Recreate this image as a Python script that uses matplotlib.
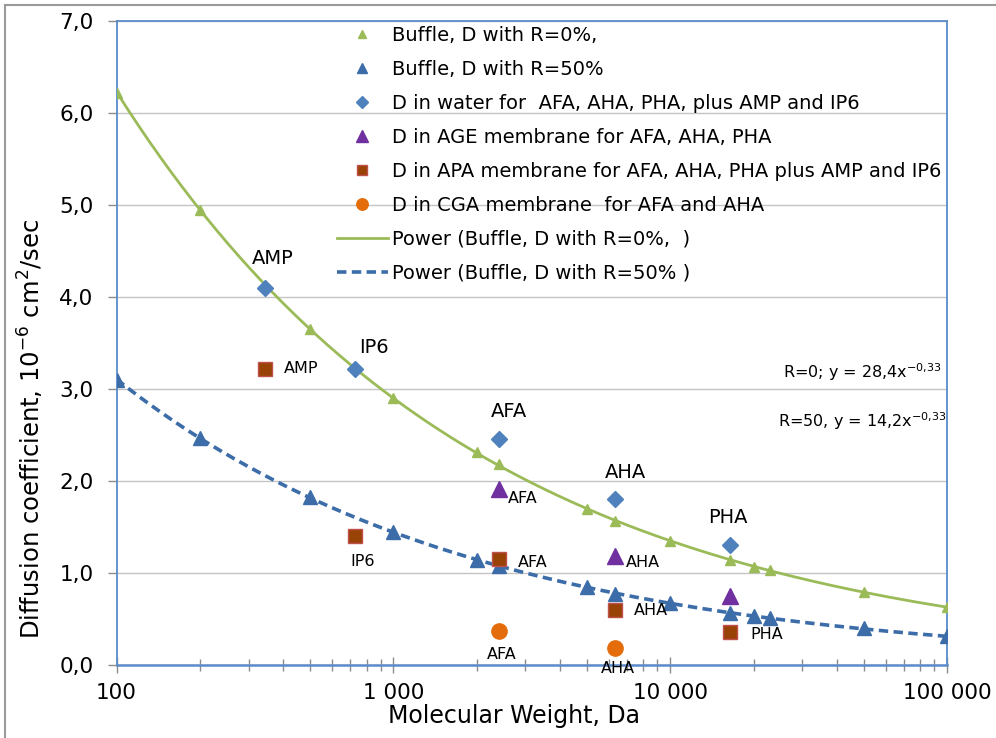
import numpy as np
import matplotlib
matplotlib.use("Agg")
import matplotlib.pyplot as plt
from matplotlib.lines import Line2D
from matplotlib.ticker import FixedLocator, FixedFormatter, LogLocator, NullFormatter

# Buffle model values
mw_buffle = [100, 200, 500, 1000, 2000, 2400, 5000, 6300, 10000, 16400, 20000, 23000, 50000, 100000]
d_r0 = [6.22, 4.95, 3.65, 2.90, 2.31, 2.18, 1.70, 1.57, 1.35, 1.14, 1.07, 1.03, 0.79, 0.63]
d_r50 = [3.10, 2.47, 1.83, 1.45, 1.14, 1.08, 0.845, 0.77, 0.67, 0.565, 0.53, 0.51, 0.40, 0.31]

# measured values
water_names = ["AMP", "IP6", "AFA", "AHA", "PHA"]
water_mw = [345, 730, 2400, 6300, 16400]
water_d = [4.10, 3.22, 2.46, 1.80, 1.30]

age_names = ["AFA", "AHA", "PHA"]
age_mw = [2400, 6300, 16400]
age_d = [1.91, 1.18, 0.745]

apa_names = ["AMP", "IP6", "AFA", "AHA", "PHA"]
apa_mw = [345, 730, 2400, 6300, 16400]
apa_d = [3.22, 1.40, 1.15, 0.60, 0.356]

cga_names = ["AFA", "AHA"]
cga_mw = [2400, 6300]
cga_d = [0.374, 0.18]

xtick_values = [100, 1000, 10000, 100000]
xtick_labels = ["100", "1 000", "10 000", "100 000"]
ytick_values = [0, 1, 2, 3, 4, 5, 6, 7]
ytick_labels = ["0,0", "1,0", "2,0", "3,0", "4,0", "5,0", "6,0", "7,0"]

green = "#9BBB59"
blue = "#3C6DA8"
light_blue = "#4F81BD"
purple = "#7030A0"
brown = "#994207"
orange = "#E46C0A"
frame_blue = "#5B8BCB"


# power trend line fitted on log-log data, like Excel does
def power_fit(x, y):
    b, log_a = np.polyfit(np.log(x), np.log(y), 1)
    xs = np.logspace(2, 5, 300)
    return xs, np.exp(log_a) * xs ** b


fig = plt.figure(figsize=(9.96, 7.38), dpi=100)
ax = fig.add_axes([116.5 / 996, 1 - 665 / 738, (947 - 116.5) / 996, (665 - 21) / 738])

xs, ys = power_fit(mw_buffle, d_r0)
ax.plot(xs, ys, color=green, lw=2, zorder=2, label="Power (Buffle, D with R=0%,  )")
xs, ys = power_fit(mw_buffle, d_r50)
ax.plot(xs, ys, color=blue, lw=2.6, ls=(0, (2.6, 1.5)), zorder=2, label="Power (Buffle, D with R=50% )")

h_r0, = ax.plot(mw_buffle, d_r0, "^", color=green, ms=7, ls="none", zorder=3)
h_r50, = ax.plot(mw_buffle, d_r50, "^", color=blue, ms=9.5, ls="none", zorder=3)
h_water, = ax.plot(water_mw, water_d, "D", color=light_blue, ms=8.5, ls="none", zorder=4)
h_age, = ax.plot(age_mw, age_d, "^", color=purple, ms=11, ls="none", zorder=4)
h_apa, = ax.plot(apa_mw, apa_d, "s", mfc=brown, mec="#C0504D", mew=1, ms=10.5, ls="none", zorder=4)
h_cga, = ax.plot(cga_mw, cga_d, "o", color=orange, ms=11, ls="none", zorder=4)

# labels above the water points
big_offsets = [(7, 29), (18, 21), (10, 27), (11, 27), (-2, 28)]
for name, x, y, off in zip(water_names, water_mw, water_d, big_offsets):
    ax.annotate(name, (x, y), xytext=off, textcoords="offset pixels",
                ha="center", va="center", fontsize=14)

# small labels next to the membrane points
small = dict(textcoords="offset pixels", va="center", fontsize=11.5)
age_offsets = [(9, -9), (11, -6), None]
for name, x, y, off in zip(age_names, age_mw, age_d, age_offsets):
    if off:
        ax.annotate(name, (x, y), xytext=off, ha="left", **small)
apa_offsets = [(18, 0), (7, -25), (19, -3), (19, -1), (21, -2)]
for name, x, y, off in zip(apa_names, apa_mw, apa_d, apa_offsets):
    ax.annotate(name, (x, y), xytext=off, ha="center" if name == "IP6" else "left", **small)
cga_offsets = [(3, -24), (3, -20)]
for name, x, y, off in zip(cga_names, cga_mw, cga_d, cga_offsets):
    ax.annotate(name, (x, y), xytext=off, ha="center", **small)

ax.text(0.8025, 0.4457, "R=0; y = 28,4x$^{-0{,}33}$", transform=ax.transAxes,
        fontsize=11.5, va="baseline")
ax.text(0.7965, 0.3696, "R=50, y = 14,2x$^{-0{,}33}$", transform=ax.transAxes,
        fontsize=11.5, va="baseline")

ax.set_xscale("log")
ax.set_xlim(100, 100000)
ax.set_ylim(0, 7)
ax.xaxis.set_major_locator(FixedLocator(xtick_values))
ax.xaxis.set_major_formatter(FixedFormatter(xtick_labels))
ax.xaxis.set_minor_locator(LogLocator(base=10, subs=np.arange(2, 10)))
ax.xaxis.set_minor_formatter(NullFormatter())
ax.set_yticks(ytick_values)
ax.set_yticklabels(ytick_labels)

ax.tick_params(axis="x", which="major", direction="inout", length=12, width=1,
               color="#8C8C8C", labelsize=15.5, pad=7)
ax.tick_params(axis="x", which="minor", direction="inout", length=9, width=1, color="#8C8C8C")
ax.tick_params(axis="y", direction="out", length=6.5, width=1, color="#8C8C8C",
               labelsize=15.5, pad=10)

ax.grid(axis="y", color="#C4C4C4", lw=1)
ax.set_axisbelow(True)
for side in ["left", "right", "top"]:
    ax.spines[side].set_color(frame_blue)
    ax.spines[side].set_linewidth(1.3)
ax.spines["bottom"].set_color(frame_blue)
ax.spines["bottom"].set_linewidth(1.8)

ax.set_xlabel("Molecular Weight, Da", fontsize=17, va="center")
ax.xaxis.set_label_coords(0.4786, -0.0792)
ax.set_ylabel("Diffusion coefficient, 10$^{-6}$ cm$^{2}$/sec", fontsize=17.5, va="center")
ax.yaxis.set_label_coords(-0.103, 0.366)

handles = [h_r0, h_r50, h_water, h_age, h_apa, h_cga] + ax.get_lines()[:2]
labels = ["Buffle, D with R=0%,", "Buffle, D with R=50%",
          "D in water for  AFA, AHA, PHA, plus AMP and IP6",
          "D in AGE membrane for AFA, AHA, PHA",
          "D in APA membrane for AFA, AHA, PHA plus AMP and IP6",
          "D in CGA membrane  for AFA and AHA",
          "Power (Buffle, D with R=0%,  )", "Power (Buffle, D with R=50% )"]
fig.legend(handles, labels, loc="upper left", bbox_to_anchor=(337 / 996, 1 - 26 / 738),
           frameon=False, fontsize=14, borderpad=0, borderaxespad=0, handlelength=2.6,
           handletextpad=0.25, labelspacing=0.77, markerscale=0.75)

# outer border of the chart
fig.add_artist(Line2D([5 / 996, 5 / 996], [0, 1 - 5 / 738], color="#9A9A9A", lw=1.5))
fig.add_artist(Line2D([5 / 996, 1], [1 - 5 / 738, 1 - 5 / 738], color="#9A9A9A", lw=1.5))

fig.savefig("out.png", dpi=100)
